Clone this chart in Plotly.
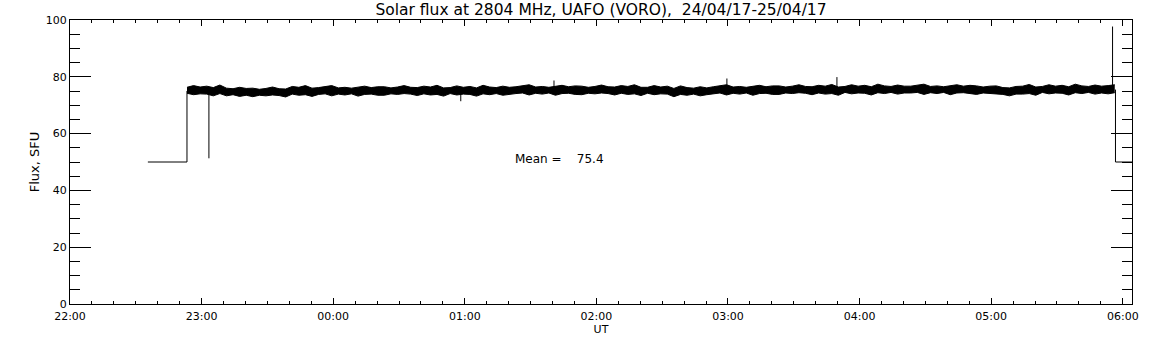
import pandas as pd
import plotly.graph_objects as go

# ---------------- data ----------------
title_text = "Solar flux at 2804 MHz, UAFO (VORO),  24/04/17-25/04/17"
mean_value = 75.4

# flat segment before observation starts, and the jump to the flux level
lead_times = ["2017-04-24 22:35:30", "2017-04-24 22:53:20", "2017-04-24 22:53:20"]
lead_values = [50.0, 50.0, 75.0]

# drop at the end of the record
tail_times = ["2017-04-25 05:56:40", "2017-04-25 05:56:40", "2017-04-25 06:06:00"]
tail_values = [75.5, 50.0, 50.0]

# isolated spikes / dips (value at the tip)
spike_times = ["2017-04-24 23:03:20", "2017-04-25 00:58:10", "2017-04-25 01:40:40",
               "2017-04-25 02:59:30", "2017-04-25 03:49:40", "2017-04-25 05:55:20"]
spike_values = [51.3, 71.4, 78.7, 79.4, 79.9, 97.7]
spike_base = 75.0

# envelope of the noisy flux band, sampled every 3 minutes from 22:53:20
band_start = "2017-04-24 22:53:20"
band_step = "3min"
band_hi = [
    76.3, 76.9, 76.4, 76.7, 76.2, 77.1, 76.0, 75.8, 76.3, 75.9,
    76.0, 75.6, 75.9, 76.4, 75.8, 75.7, 76.6, 76.3, 76.9, 76.0,
    76.2, 76.5, 76.9, 76.1, 76.3, 76.0, 76.4, 76.7, 76.2, 76.5,
    76.5, 76.1, 76.4, 76.9, 76.3, 76.2, 76.7, 76.4, 77.0, 76.1,
    76.2, 76.8, 76.3, 76.6, 76.1, 77.0, 76.4, 76.2, 76.7, 76.3,
    76.5, 76.8, 77.2, 76.4, 76.6, 76.3, 76.7, 77.0, 76.5, 76.8,
    76.7, 76.3, 76.6, 77.1, 76.5, 76.4, 76.9, 76.6, 77.2, 76.3,
    76.3, 76.9, 76.4, 76.7, 75.9, 76.8, 76.2, 76.0, 76.5, 76.1,
    76.5, 76.8, 77.2, 76.4, 76.6, 76.3, 76.7, 77.0, 76.5, 76.8,
    76.8, 76.4, 76.7, 77.2, 76.6, 76.5, 77.0, 76.7, 77.3, 76.4,
    76.6, 77.2, 76.7, 77.0, 76.5, 77.4, 76.8, 76.6, 77.1, 76.7,
    76.7, 77.0, 77.4, 76.6, 76.8, 76.5, 76.9, 77.2, 76.7, 77.0,
    76.8, 76.4, 76.7, 76.8, 76.2, 76.1, 76.6, 76.7, 77.3, 76.4,
    76.6, 77.2, 76.7, 77.0, 76.5, 77.4, 76.8, 76.6, 77.1, 76.7,
    76.9, 77.2,
]
band_lo = [
    74.2, 73.7, 74.0, 73.9, 73.3, 74.1, 73.3, 73.7, 73.1, 73.5,
    73.0, 73.5, 73.3, 73.6, 73.4, 72.9, 73.9, 73.5, 73.7, 73.1,
    73.8, 74.0, 73.3, 73.9, 73.6, 74.0, 73.2, 73.8, 73.9, 73.5,
    73.5, 74.0, 73.8, 74.1, 73.9, 73.4, 74.0, 73.6, 73.8, 73.2,
    74.1, 73.6, 73.9, 73.8, 73.2, 74.0, 73.7, 74.1, 73.5, 73.9,
    74.1, 74.3, 73.6, 74.2, 73.9, 74.3, 73.5, 74.1, 74.2, 73.8,
    73.7, 74.2, 74.0, 74.3, 74.1, 73.6, 74.2, 73.8, 74.0, 73.4,
    74.2, 73.7, 74.0, 73.9, 73.0, 73.8, 73.5, 73.9, 73.3, 73.7,
    74.1, 74.3, 73.6, 74.2, 73.9, 74.3, 73.5, 74.1, 74.2, 73.8,
    73.8, 74.3, 74.1, 74.4, 74.2, 73.7, 74.3, 73.9, 74.1, 73.5,
    74.5, 74.0, 74.3, 74.2, 73.6, 74.4, 74.1, 74.5, 73.9, 74.3,
    74.3, 74.5, 73.8, 74.4, 74.1, 74.5, 73.7, 74.3, 74.4, 74.0,
    73.8, 74.3, 74.1, 74.0, 73.8, 73.3, 73.9, 73.9, 74.1, 73.5,
    74.5, 74.0, 74.3, 74.2, 73.6, 74.4, 74.1, 74.5, 73.9, 74.3,
    74.0, 74.4,
]

x_range = ["2017-04-24 22:00:00", "2017-04-25 06:04:12"]
y_range = [0, 100]
mean_label_pos = ("2017-04-25 01:22:00", 51.2)

# ---------------- figure ----------------
band_times = pd.date_range(band_start, periods=len(band_hi), freq=band_step)

FONT = "DejaVu Sans"
BLACK = "#000000"

fig = go.Figure()

fig.add_trace(go.Scatter(x=band_times, y=band_lo, mode="lines",
                         line=dict(color=BLACK, width=1), showlegend=False,
                         hoverinfo="skip"))
fig.add_trace(go.Scatter(x=band_times, y=band_hi, mode="lines", fill="tonexty",
                         fillcolor=BLACK, line=dict(color=BLACK, width=1),
                         showlegend=False, hoverinfo="skip"))

fig.add_trace(go.Scatter(x=pd.to_datetime(lead_times), y=lead_values, mode="lines",
                         line=dict(color=BLACK, width=1), showlegend=False))
fig.add_trace(go.Scatter(x=pd.to_datetime(tail_times), y=tail_values, mode="lines",
                         line=dict(color=BLACK, width=1), showlegend=False))

sx, sy = [], []
for t, v in zip(spike_times, spike_values):
    sx += [pd.Timestamp(t), pd.Timestamp(t), None]
    sy += [spike_base, v, None]
fig.add_trace(go.Scatter(x=sx, y=sy, mode="lines",
                         line=dict(color=BLACK, width=1), showlegend=False))

fig.add_annotation(x=pd.Timestamp(mean_label_pos[0]), y=mean_label_pos[1],
                   text="Mean =\u00a0\u00a0\u00a0\u00a0%.1f" % mean_value,
                   showarrow=False, xanchor="left", yanchor="middle",
                   font=dict(family=FONT, size=12, color=BLACK))

fig.update_layout(
    width=1152, height=345,
    margin=dict(l=70, r=20, t=20, b=41, pad=0),
    paper_bgcolor="white", plot_bgcolor="white",
    font=dict(family=FONT, size=11, color=BLACK),
    title=dict(text=title_text, x=0.5, xref="paper", xanchor="center",
               y=1 - 10 / 345, yref="container", yanchor="middle",
               font=dict(family=FONT, size=15.5, color=BLACK)),
    showlegend=False,
)

fig.update_xaxes(
    type="date", range=x_range, tickformat="%H:%M",
    tick0="2017-04-24 22:00:00", dtick=3600000,
    ticks="inside", ticklen=6, tickwidth=1, tickcolor=BLACK,
    minor=dict(dtick=600000, ticks="inside", ticklen=3, tickwidth=1, tickcolor=BLACK),
    showline=True, linecolor=BLACK, linewidth=1, mirror="ticks",
    showgrid=False, zeroline=False, automargin=False,
    ticklabelstandoff=2,
    tickfont=dict(family=FONT, size=11, color=BLACK),
    title=dict(text="UT", font=dict(family=FONT, size=11, color=BLACK), standoff=2),
)
fig.update_yaxes(
    range=y_range, tick0=0, dtick=20,
    ticks="inside", ticklen=21, tickwidth=1, tickcolor=BLACK,
    minor=dict(dtick=5, ticks="inside", ticklen=10, tickwidth=1, tickcolor=BLACK),
    showline=True, linecolor=BLACK, linewidth=1, mirror="ticks",
    showgrid=False, zeroline=False, automargin=False,
    tickfont=dict(family=FONT, size=11, color=BLACK),
    title=dict(text="Flux, SFU", font=dict(family=FONT, size=13, color=BLACK), standoff=3),
)

fig.write_html("out.html",
               config={"displayModeBar": False},
               post_script="document.body.style.margin='0';")
